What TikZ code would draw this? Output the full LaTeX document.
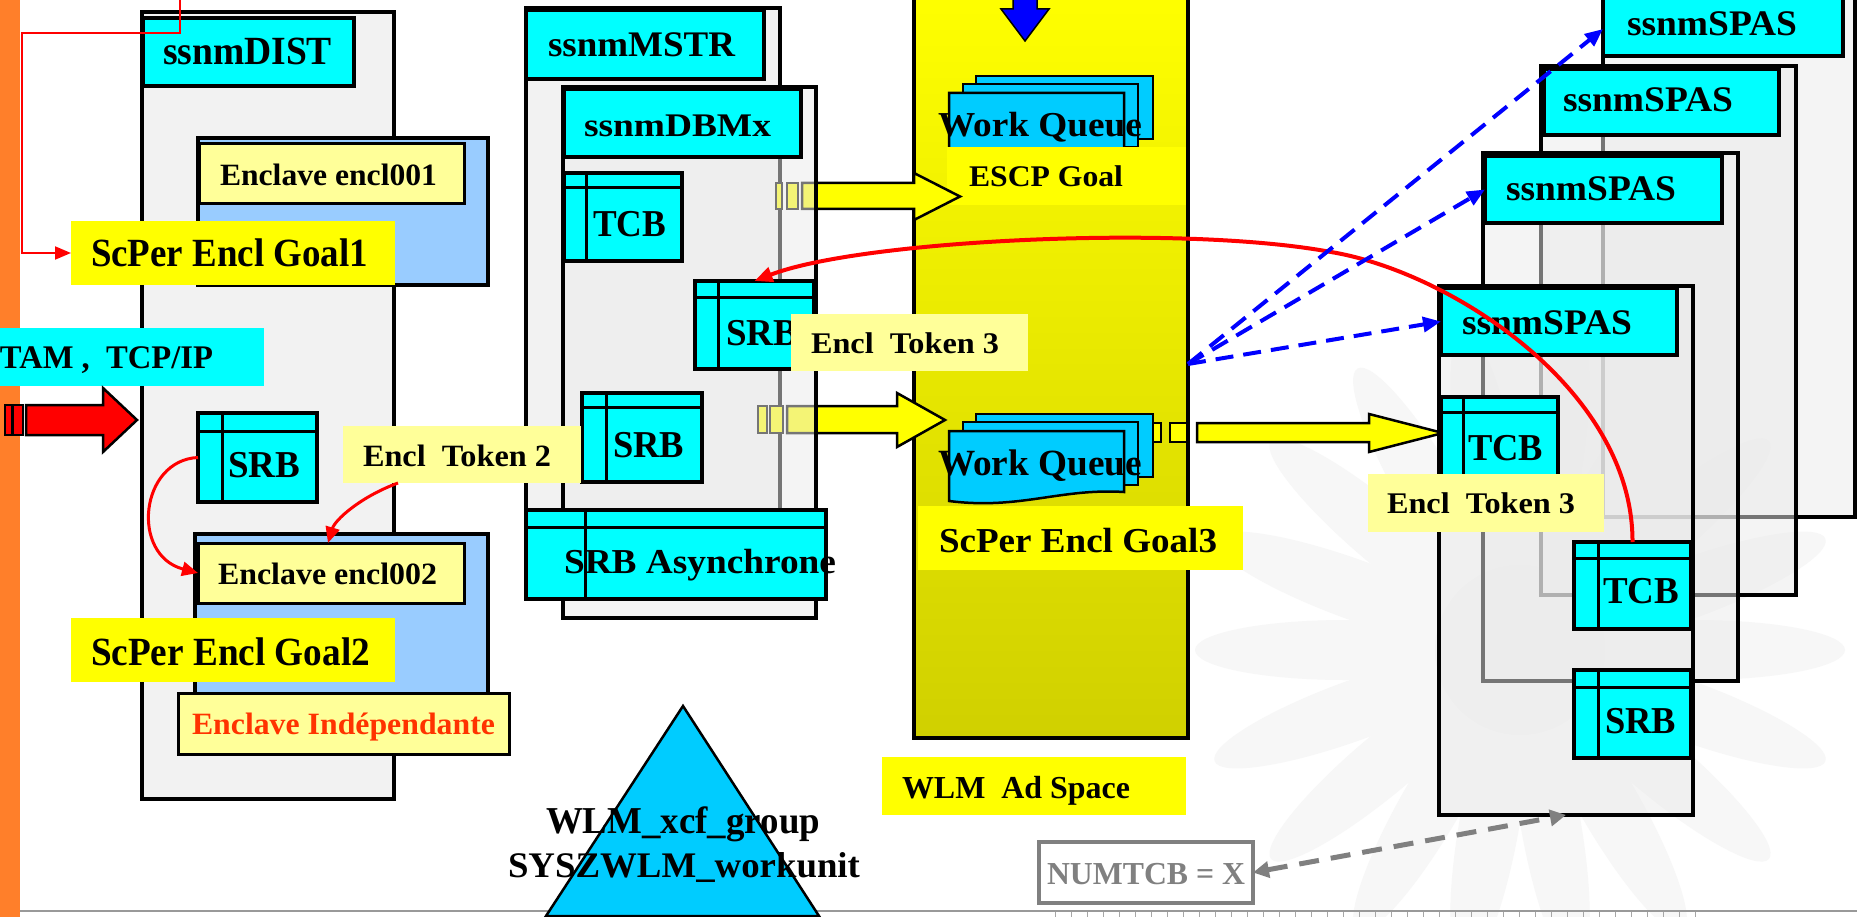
\documentclass[tikz,border=0pt]{standalone}
\usepackage{fontspec}
\setmainfont{Liberation Serif}
\usepackage{graphicx}
\usetikzlibrary{arrows.meta,fit,calc}

\definecolor{cyanC}{HTML}{00FFFF}
\definecolor{skyC}{HTML}{00CCFF}
\definecolor{lyel}{HTML}{FFFF99}
\definecolor{yelC}{HTML}{FFFF00}
\definecolor{lblue}{HTML}{99CCFF}
\definecolor{panel}{HTML}{F2F2F2}
\definecolor{orangeC}{HTML}{FF7F2A}
\definecolor{redT}{HTML}{FF3300}
\definecolor{grayT}{HTML}{808080}
\definecolor{colmid}{HTML}{EEEE00}
\definecolor{colbot}{HTML}{D0D000}

% bold text squeezed or stretched to a given width: width, size, text
\newcommand\tx[3]{\resizebox{#1pt}{\height}{\fontsize{#2pt}{#2pt}\selectfont\bfseries #3}}
% rectangle node from two corners: style, name, x1, y1, x2, y2
\newcommand\bxn[6]{\node[#1, fit={(#3,#4) (#5,#6)}] (#2) {};}
% record box with a header strip and a side strip: name, x1, y1, x2, y2, strip y, strip x
\newcommand\tbl[7]{\node[tblbox, fit={(#2,#3) (#4,#5)}] (#1) {};
  \draw[line width=3pt] (#2,#6) -- (#4,#6) (#7,#3) -- (#7,#5);}
% text label on a baseline: [colour] name, x, baseline, width, size, text
\newcommand\lab[7][black]{\node[lbl, text=#1] (#2) at (#3,#4) {\tx{#5}{#6}{#7}};}

\begin{document}
\begin{tikzpicture}[x=1pt,y=-1pt,
  bx/.style={rectangle, inner sep=0pt, outer sep=0pt},
  panelbox/.style={bx, fill=panel, draw=black, line width=4pt},
  ghostbox/.style={bx, fill=black!8, fill opacity=0.5, draw=black, line width=4pt},
  cylab/.style={bx, fill=cyanC, draw=black, line width=3.5pt},
  tagbox/.style={bx, fill=lyel},
  goalbox/.style={bx, fill=yelC},
  enclbox/.style={bx, fill=lblue, draw=black, line width=4pt},
  encllab/.style={bx, fill=lyel, draw=black, line width=3pt},
  tblbox/.style={bx, fill=cyanC, draw=black, line width=4pt},
  lbl/.style={anchor=base west, inner sep=0pt, outer sep=0pt},
  yarr/.style={fill=yelC, draw=black, line width=2.5pt, line join=miter},
  docs/.style={fill=skyC, draw=black, line width=2.5pt},
  redline/.style={draw=red, line width=2pt},
  redcurve/.style={draw=red, line width=3pt, -{Triangle[length=16pt,width=14pt]}},
  bluedash/.style={draw=blue, line width=4pt, dash pattern=on 18pt off 10pt, -{Triangle[length=18pt,width=15pt]}},
  graydash/.style={draw=grayT, line width=5pt, dash pattern=on 20pt off 12pt, {Triangle[length=16pt,width=16pt]}-{Triangle[length=16pt,width=16pt]}},
  ]
\useasboundingbox (0,0) rectangle (1857,917);
\clip (0,0) rectangle (1857,917);
\fill[white] (0,0) rectangle (1857,917);

% faint sunflower in the background
\begin{scope}[shift={(1520,650)}]
  \foreach \a in {0,20,...,340}{\fill[black!3, rotate=\a] (175pt,0pt) ellipse [x radius=150pt, y radius=30pt];}
  \fill[black!5] (0,0) circle [radius=85pt];
\end{scope}

% page frame: orange band and bottom rule
\fill[orangeC] (0,0) rectangle (20,917);
\draw[black!40, line width=2pt] (20,911) -- (1857,911);
\foreach \i in {0,...,40}{\draw[black!35, line width=1pt] (1055+16*\i,912) -- ++(0,6);}

% ---------- WLM address space ----------
\node[bx, fit={(914,-10) (1188,738)}, top color=yelC, middle color=colmid, bottom color=colbot, draw=black, line width=4pt] (wlm) {};
\draw[fill=blue, line width=1.5pt, line join=miter] (1013,-5) -- (1013,9) -- (1001,9) -- (1025,41) -- (1049,9) -- (1037,9) -- (1037,-5) -- cycle;

% arrow towards the SPAS TCB (tail hidden under the queue)
\draw[yarr] (1146,423) rectangle (1161,442);
\draw[yarr] (1170,423) rectangle (1187,442);
\draw[yarr] (1197,423) -- (1369,423) -- (1369,414) -- (1443,433) -- (1369,452) -- (1369,442) -- (1197,442) -- cycle;

% upper work queue
\draw[docs] (976,76) rectangle (1153,139);
\draw[docs] (963,84) rectangle (1138,147);
\draw[docs] (949,93) -- (1124,93) -- (1124,154) .. controls (1060,150) and (1020,172) .. (949,163) -- cycle;
\lab{wqa}{938}{137}{204}{35}{Work Queue}
% lower work queue
\draw[docs] (976,414) rectangle (1153,477);
\draw[docs] (963,422) rectangle (1138,485);
\draw[docs] (949,431) -- (1124,431) -- (1124,492) .. controls (1060,488) and (1020,510) .. (949,501) -- cycle;
\lab{wqb}{938}{475}{204}{37}{Work Queue}

\bxn{goalbox}{escp}{947}{147}{1186}{205}
\lab{escpt}{969}{187}{154}{30}{ESCP Goal}
\bxn{goalbox}{goal3}{918}{506}{1243}{570}
\lab{goal3t}{939}{552}{278}{35}{ScPer Encl Goal3}
\bxn{goalbox}{wlmlab}{882}{757}{1186}{815}
\lab{wlmt}{902}{798}{228}{32}{WLM\ \ Ad Space}

% XCF group
\draw[fill=skyC, line width=2.5pt, line join=miter] (683,706) -- (819,916) -- (546,916) -- cycle;
\lab{xcfa}{546}{833}{274}{38}{WLM\_xcf\_group}
\lab{xcfb}{508}{877}{352}{36}{SYSZWLM\_workunit}

% ---------- MSTR / DBMx ----------
\bxn{panelbox}{mstr}{526}{8}{780}{590}
\bxn{cylab}{mstrlab}{526}{10}{764}{79}
\lab{mstrt}{548}{57}{187}{36}{ssnmMSTR}

% arrows into the WLM queues (tails run under the DBMx panel)
\draw[yarr] (776,183) rectangle (782,209);
\draw[yarr] (787,183) rectangle (798,209);
\draw[yarr] (802,183) -- (914,183) -- (914,173) -- (960,196.5) -- (914,220) -- (914,209) -- (802,209) -- cycle;
\draw[yarr] (758,406) rectangle (767,433);
\draw[yarr] (770,406) rectangle (783,433);
\draw[yarr] (787,406) -- (897,406) -- (897,393) -- (945,420) -- (897,447) -- (897,433) -- (787,433) -- cycle;

\node[bx, fit={(563,87) (816,618)}, fill=black!8, fill opacity=0.5, draw=black, line width=4pt] (dbmx) {};
\bxn{cylab}{dbmxlab}{564}{89}{801}{157}
\lab{dbmxt}{584}{137}{187}{33}{ssnmDBMx}

\tbl{tcbA}{564}{173}{682}{261}{188}{586}
\lab{tcbAt}{593}{237}{73}{38}{TCB}
\tbl{srbU}{695}{281}{814}{369}{297}{718}
\lab{srbUt}{726}{345}{72}{38}{SRB}
\tbl{srbM}{582}{393}{702}{482}{407}{606}
\lab{srbMt}{613}{457}{71}{38}{SRB}
\tbl{srbA}{526}{510}{826}{599}{527}{585}
\lab{srbAt}{564}{573}{272}{35}{SRB Asynchrone}
\bxn{tagbox}{tok3a}{791}{314}{1028}{371}
\lab{tok3at}{811}{353}{188}{30}{Encl\ \ Token 3}

% ---------- DIST ----------
\bxn{panelbox}{dist}{142}{12}{394}{799}
\bxn{cylab}{distlab}{143}{18}{354}{86}
\lab{distt}{163}{65}{169}{40}{ssnmDIST}

\bxn{enclbox}{enc1}{198}{138}{488}{285}
\bxn{encllab}{enc1lab}{199}{144}{464}{204}
\lab{enc1t}{220}{186}{217}{31}{Enclave encl001}
\bxn{goalbox}{goal1}{71}{221}{395}{285}
\lab{goal1t}{91}{267}{277}{40}{ScPer Encl Goal1}

\bxn{bx, fill=cyanC}{tam}{0}{328}{264}{386}
\lab{tamt}{0}{368}{213}{33}{TAM\ ,\ \ TCP/IP}
\draw[fill=red, line width=2.5pt, line join=miter] (5,405) rectangle (12,435);
\draw[fill=red, line width=2.5pt, line join=miter] (13,405) rectangle (23,435);
\draw[fill=red, line width=2.5pt, line join=miter] (26,405) -- (103,405) -- (103,388) -- (137,420) -- (103,452) -- (103,435) -- (26,435) -- cycle;

\tbl{srbL}{198}{413}{317}{502}{431}{222}
\lab{srbLt}{228}{477}{72}{38}{SRB}

\bxn{enclbox}{enc2}{195}{534}{488}{700}
\bxn{encllab}{enc2lab}{198}{543}{464}{603}
\lab{enc2t}{218}{584}{219}{31}{Enclave encl002}
\bxn{goalbox}{goal2}{71}{618}{395}{682}
\lab{goal2t}{91}{665}{279}{40}{ScPer Encl Goal2}
\bxn{encllab}{indep}{178}{693}{509}{754}
\lab[redT]{indept}{192}{734}{303}{31}{Enclave Indépendante}
\bxn{tagbox}{tok2}{343}{426}{581}{483}
\lab{tok2t}{363}{466}{188}{31}{Encl\ \ Token 2}

% ---------- SPAS address spaces ----------
\bxn{ghostbox}{spasA}{1603}{-10}{1855}{517}
\bxn{cylab}{spasAlab}{1603}{-4}{1843}{56}
\lab{spasAt}{1627}{36}{170}{36}{ssnmSPAS}
\bxn{ghostbox}{spasB}{1541}{66}{1796}{595}
\bxn{cylab}{spasBlab}{1544}{69}{1779}{135}
\lab{spasBt}{1563}{112}{170}{36}{ssnmSPAS}
\bxn{ghostbox}{spasC}{1483}{153}{1738}{681}
\bxn{cylab}{spasClab}{1485}{156}{1722}{223}
\lab{spasCt}{1506}{201}{170}{36}{ssnmSPAS}
\bxn{ghostbox}{spasD}{1439}{286}{1693}{815}
\bxn{cylab}{spasDlab}{1441}{288}{1677}{355}
\lab{spasDt}{1462}{334}{170}{36}{ssnmSPAS}

\tbl{tcbF}{1441}{397}{1558}{480}{412}{1463}
\lab{tcbFt}{1468}{460}{75}{38}{TCB}
\bxn{tagbox}{tok3b}{1368}{474}{1604}{532}
\lab{tok3bt}{1387}{513}{188}{30}{Encl\ \ Token 3}
\tbl{tcbR}{1574}{542}{1691}{629}{558}{1598}
\lab{tcbRt}{1603}{603}{76}{38}{TCB}
\tbl{srbR}{1574}{670}{1691}{758}{687}{1598}
\lab{srbRt}{1605}{733}{71}{38}{SRB}

\bxn{bx, fill=white, draw=grayT, line width=4pt}{numtcb}{1039}{842}{1253}{903}
\lab[grayT]{numtcbt}{1047}{884}{198}{32}{NUMTCB = X}

% ---------- connectors ----------
\coordinate (feed) at (180,-3);
\draw[redline, -{Triangle[length=16pt,width=13pt]}] (feed) -- (180,33) -- (22,33) |- (goal1.west);
\draw[redcurve] (srbL.west) .. controls (140,460) and (130,555) .. (enc2lab.west);
\draw[redcurve] ($(tok2.south west)+(55,0)$) .. controls (360,497) and (335,520) .. ($(enc2lab.north west)+(130,0)$);
\draw[draw=red, line width=4pt, -{Triangle[length=18pt,width=15pt]}] (tcbR.north) .. controls (1633,390) and (1451,272) .. (1331,252) .. controls (1181,224) and (860,240) .. (srbU.north);
\draw[bluedash] (wlm.east) -- ([yshift=-3pt]spasAlab.west);
\draw[bluedash] (wlm.east) -- (spasClab.west);
\draw[bluedash] (wlm.east) -- (spasDlab.west);
\draw[graydash] (numtcb.east) -- (spasD.south);
\end{tikzpicture}
\end{document}
